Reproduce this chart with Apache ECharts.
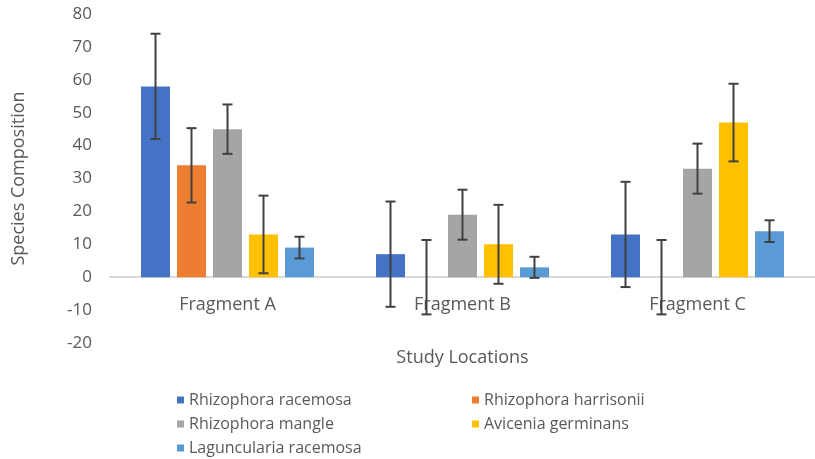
<!DOCTYPE html>
<html><head><meta charset="utf-8">
<script src="https://cdn.jsdelivr.net/npm/echarts@6/dist/echarts.min.js"></script>
<style>html,body{margin:0;padding:0;background:#fff}#c{width:815px;height:459px}</style>
</head><body><div id="c"></div>
<script>
const categories = ['Fragment A', 'Fragment B', 'Fragment C'];
const seriesNames = ['Rhizophora racemosa', 'Rhizophora harrisonii', 'Rhizophora mangle', 'Avicenia germinans', 'Laguncularia racemosa'];
const racemosa = [58, 7, 13];
const harrisonii = [34, 0, 0];
const mangle = [45, 19, 33];
const germinans = [13, 10, 47];
const laguncularia = [9, 3, 14];
const errRacemosa = [16, 16, 16];
const errHarrisonii = [11.3, 11.3, 11.3];
const errMangle = [7.5, 7.6, 7.6];
const errGerminans = [11.8, 12, 11.8];
const errLaguncularia = [3.3, 3.2, 3.3];
const yTicks = { min: -20, max: 80, interval: 10 };

const values = [racemosa, harrisonii, mangle, germinans, laguncularia];
const errors = [errRacemosa, errHarrisonii, errMangle, errGerminans, errLaguncularia];
const colors = ['#4472C4', '#ED7D31', '#A5A5A5', '#FFC000', '#5B9BD5'];
const BAR_W = 29, GAP = 7;
const font = '"Open Sans", sans-serif';
const GRID_TOP = 14, GRID_BOTTOM = 116, H = 459;
const plotH = H - GRID_TOP - GRID_BOTTOM;
const zeroShift = -plotH * (0 - yTicks.min) / (yTicks.max - yTicks.min);

const series = [];
values.forEach((v, i) => {
  series.push({
    name: seriesNames[i], type: 'bar', data: v, barWidth: BAR_W, barGap: (GAP / BAR_W * 100) + '%',
    itemStyle: { color: colors[i] }, z: 2
  });
});
values.forEach((v, i) => {
  const offset = (i - 2) * (BAR_W + GAP);
  series.push({
    type: 'custom', name: seriesNames[i] + ' err', z: 5, silent: true,
    data: v.map((val, k) => [k, val - errors[i][k], val + errors[i][k]]),
    renderItem: function (params, api) {
      const lo = api.coord([api.value(0), api.value(1)]);
      const hi = api.coord([api.value(0), api.value(2)]);
      const x = lo[0] + offset;
      const cap = 5;
      const st = { stroke: '#404040', lineWidth: 2 };
      return { type: 'group', children: [
        { type: 'line', shape: { x1: x, y1: lo[1], x2: x, y2: hi[1] }, style: st },
        { type: 'line', shape: { x1: x - cap, y1: lo[1], x2: x + cap, y2: lo[1] }, style: st },
        { type: 'line', shape: { x1: x - cap, y1: hi[1], x2: x + cap, y2: hi[1] }, style: st }
      ]};
    }
  });
});

const legendBase = {
  orient: 'vertical', icon: 'rect', itemWidth: 7, itemHeight: 7, itemGap: 8, height: 100,
  textStyle: { fontFamily: font, fontSize: 16, lineHeight: 16, color: '#595959' },
  top: 387
};

const chart = echarts.init(document.getElementById('c'));
chart.setOption({
  animation: false,
  grid: { left: 110, right: -10, top: GRID_TOP, bottom: GRID_BOTTOM },
  xAxis: {
    type: 'category', data: categories, offset: zeroShift,
    name: 'Study Locations', nameLocation: 'middle', nameGap: 72,
    nameTextStyle: { fontFamily: font, fontSize: 18, color: '#595959' },
    axisLine: { onZero: false, lineStyle: { color: '#D9D9D9', width: 2 } },
    axisTick: { show: false },
    axisLabel: { fontFamily: font, fontSize: 18, color: '#595959', margin: 19 }
  },
  yAxis: {
    type: 'value', min: yTicks.min, max: yTicks.max, interval: yTicks.interval,
    name: 'Species Composition', nameLocation: 'middle', nameGap: 82,
    nameTextStyle: { fontFamily: font, fontSize: 18, color: '#595959' },
    axisLine: { show: false }, axisTick: { show: false }, splitLine: { show: false },
    axisLabel: { fontFamily: font, fontSize: 17, color: '#595959', margin: 18 }
  },
  legend: [
    Object.assign({}, legendBase, { left: 172, data: [seriesNames[0], seriesNames[2], seriesNames[4]] }),
    Object.assign({}, legendBase, { left: 467, data: [seriesNames[1], seriesNames[3]] })
  ],
  series: series
});
</script></body></html>
